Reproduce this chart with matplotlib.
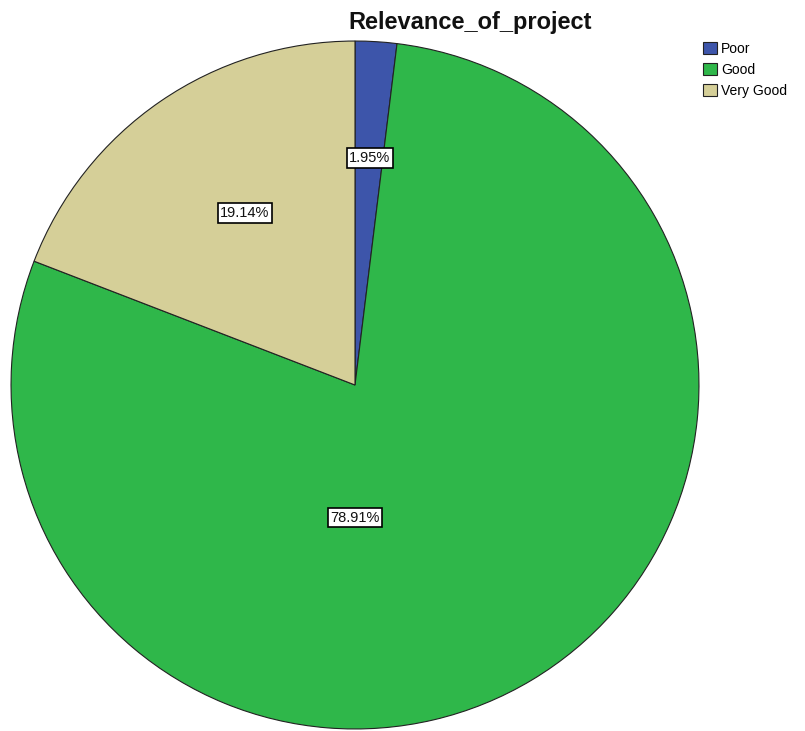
import matplotlib
matplotlib.use('Agg')
import matplotlib.pyplot as plt
from matplotlib.patches import Patch

# Data
categories = ['Poor', 'Good', 'Very Good']
percents = [1.95, 78.91, 19.14]
pct_labels = ['1.95%', '78.91%', '19.14%']

# Styling
colors = ['#3D55AA', '#2FB74A', '#D5CF98']
label_pos = [(0.043, 0.66), (0.0, -0.386), (-0.32, 0.50)]

plt.rcParams['font.family'] = ['Liberation Sans', 'DejaVu Sans']

fig = plt.figure(figsize=(8.05, 7.31), dpi=100)
W, H = 805, 731
cx, cy, r = 355, 385, 345
ax = fig.add_axes([(cx - r) / W, (H - cy - r) / H, 2 * r / W, 2 * r / H])

wedges, _ = ax.pie(percents, colors=colors, startangle=90, counterclock=False,
                   radius=1.0,
                   wedgeprops=dict(edgecolor='#222222', linewidth=0.8))
ax.set_xlim(-1.003, 1.003)
ax.set_ylim(-1.003, 1.003)
ax.set_aspect('equal')
ax.axis('off')

for txt, (x, y) in zip(pct_labels, label_pos):
    ax.text(x, y, txt, ha='center', va='center', fontsize=10.5, color='#111111',
            bbox=dict(boxstyle='square,pad=0.18', fc='white', ec='black', lw=1.2))

fig.text(470 / W, 1 - 22 / H, 'Relevance_of_project', ha='center', va='center',
         fontsize=17, fontweight='bold', color='#111111')

handles = [Patch(facecolor=c, edgecolor='#222222', linewidth=0.8) for c in colors]
fig.legend(handles, categories, loc='upper left', bbox_to_anchor=(703 / W, 1 - 42 / H),
           frameon=False, fontsize=10, handlelength=1.0, handleheight=1.0,
           handletextpad=0.3, labelspacing=0.5, borderpad=0.0, borderaxespad=0.0)

fig.savefig('out.png', dpi=100)
